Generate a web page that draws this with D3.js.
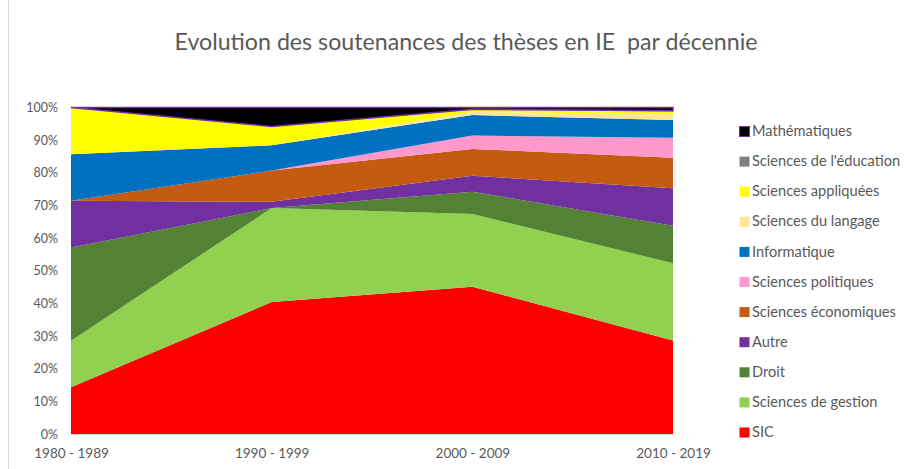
<!DOCTYPE html>
<html lang="fr">
<head>
<meta charset="utf-8">
<title>Evolution des soutenances des thèses en IE par décennie</title>
<script src="https://cdn.jsdelivr.net/npm/d3@7"></script>
<style>
  body { margin: 0; background: #fff; font-family: Lato, "Open Sans", sans-serif; }
  .title { font-size: 23.2px; fill: #595959; white-space: pre; }
  .axis text { font-size: 12.5px; fill: #595959; font-family: Lato, sans-serif; }
  .axis path, .axis line { display: none; }
  .legend text { font-size: 14.6px; fill: #595959; }
</style>
</head>
<body>
<div id="chart"></div>
<script>
// categories (decades)
const decades = ["1980 - 1989", "1990 - 1999", "2000 - 2009", "2010 - 2019"];

// series, bottom to top (share of theses, %)
const sic         = [14.3, 40.4, 45.1, 28.6];
const gestion     = [14.3, 28.8, 22.3, 23.7];
const droit       = [28.6,  0.0,  6.8, 11.5];
const autre       = [14.3,  1.9,  4.9, 11.5];
const economiques = [ 0.0,  9.6,  8.2,  9.3];
const politiques  = [ 0.0,  0.0,  4.1,  6.1];
const informatique= [14.3,  7.7,  6.3,  5.5];
const langage     = [ 0.0,  0.0,  1.0,  1.7];
const appliquees  = [14.3,  5.8,  0.5,  0.9];
const education   = [ 0.0,  0.0,  0.3,  0.2];
const maths       = [ 0.0,  5.8,  0.5,  1.0];

const seriesNames = ["SIC", "Sciences de gestion", "Droit", "Autre", "Sciences économiques",
  "Sciences politiques", "Informatique", "Sciences du langage", "Sciences appliquées",
  "Sciences de l'éducation", "Mathématiques"];
const seriesValues = [sic, gestion, droit, autre, economiques, politiques, informatique,
  langage, appliquees, education, maths];
const yTicks = [0, 0.1, 0.2, 0.3, 0.4, 0.5, 0.6, 0.7, 0.8, 0.9, 1];

const colors = ["#FF0000", "#92D050", "#548235", "#7030A0", "#C55A11", "#FF99CC",
  "#0070C0", "#FFE699", "#FFFF00", "#808080", "#000000"];

const W = 909, H = 469;

const rows = decades.map((d, i) => {
  const r = { decade: d };
  seriesNames.forEach((s, j) => r[s] = seriesValues[j][i]);
  return r;
});

const svg = d3.select("#chart").append("svg")
  .attr("width", W).attr("height", H)
  .attr("viewBox", [0, 0, W, H]);

// chart frame edge on the left
svg.append("line")
  .attr("x1", 8.5).attr("x2", 8.5).attr("y1", 0).attr("y2", H)
  .attr("stroke", "#d9d9d9");

svg.append("text")
  .attr("class", "title")
  .attr("x", 466).attr("y", 50)
  .attr("text-anchor", "middle")
  .text("Evolution des soutenances des thèses en IE  par décennie");

const x = d3.scalePoint().domain(decades).range([71, 673]);
const y = d3.scaleLinear().domain([0, 1]).range([434, 107.5]);

const stack = d3.stack()
  .keys(seriesNames)
  .offset(d3.stackOffsetExpand);
const layers = stack(rows);

const area = d3.area()
  .x(d => x(d.data.decade))
  .y0(d => y(d[0]))
  .y1(d => y(d[1]));

svg.append("g").selectAll("path")
  .data(layers)
  .join("path")
  .attr("d", area)
  .attr("fill", (d, i) => colors[i])
  .attr("stroke", (d, i) => d.key === "Mathématiques" ? "#7030A0" : "none")
  .attr("stroke-width", 1.5);

// bottom axis line
svg.append("line")
  .attr("x1", 71).attr("x2", 673).attr("y1", 434.5).attr("y2", 434.5)
  .attr("stroke", "#d9d9d9");

svg.append("g")
  .attr("class", "axis")
  .attr("transform", "translate(60,0)")
  .call(d3.axisLeft(y).tickValues(yTicks).tickFormat(d3.format(".0%")).tickSize(0).tickPadding(2));

svg.append("g")
  .attr("class", "axis")
  .attr("transform", "translate(0,442)")
  .call(d3.axisBottom(x).tickSize(0).tickPadding(6))
  .selectAll("text").style("font-size", "13.5px");

// legend, top item is Mathématiques
const legendItems = seriesNames.map((s, i) => ({ name: s, color: colors[i] })).reverse();
const legend = svg.append("g").attr("class", "legend");
const ly = d3.scalePoint().domain(legendItems.map(d => d.name)).range([131, 432]);
const li = legend.selectAll("g").data(legendItems).join("g")
  .attr("transform", d => `translate(739,${ly(d.name)})`);
li.append("rect")
  .attr("x", 0.5).attr("y", -4.5).attr("width", 10).attr("height", 10)
  .attr("fill", d => d.color)
  .attr("stroke", d => d.name === "Mathématiques" ? "#7030A0" : "none");
li.append("text")
  .attr("x", 13).attr("dy", "0.35em")
  .text(d => d.name);
</script>
</body>
</html>
